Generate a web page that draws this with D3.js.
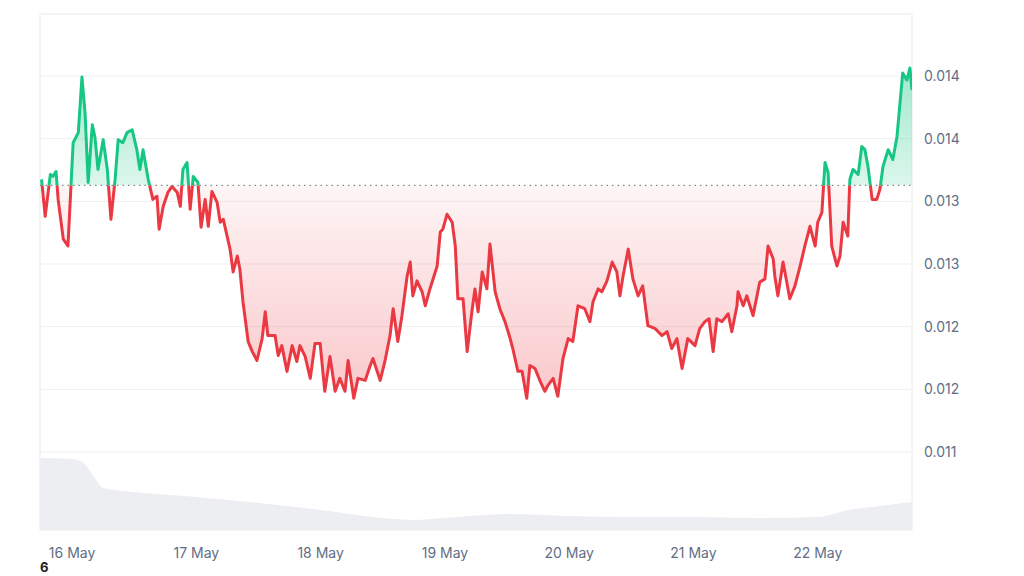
<!DOCTYPE html>
<html>
<head>
<meta charset="utf-8">
<script src="https://cdnjs.cloudflare.com/ajax/libs/d3/7.8.5/d3.min.js"></script>
<style>
  body { margin: 0; background: #fff; }
  text { font-family: "Inter", "Noto Sans", sans-serif; }
</style>
</head>
<body>
<svg id="chart" width="1024" height="576"></svg>
<script>
// hours from 16 May 00:00
const hours = [-5.9,-5.2,-4.2,-3.7,-3.1,-2.7,-1.7,-0.8,0.2,1.2,1.9,2.5,3.1,3.9,4.4,5.0,6.0,6.8,7.5,8.3,8.9,9.8,10.6,11.6,12.5,13.1,13.7,14.7,15.6,16.4,16.8,17.6,18.5,19.3,20.3,20.9,21.4,22.2,22.8,23.4,24.3,24.9,25.7,26.3,27.0,28.0,28.6,29.2,30.5,31.1,31.9,32.4,33.0,34.0,34.8,35.7,36.7,37.3,37.8,39.2,39.8,40.5,41.5,42.5,43.4,44.0,45.0,46.0,46.9,47.9,48.8,49.8,50.8,51.7,52.7,53.3,54.4,55.2,56.6,57.5,58.1,59.5,60.4,61.4,62.0,62.9,63.7,64.7,65.3,65.8,66.6,67.6,68.2,69.1,70.5,71.1,71.6,72.4,73.4,74.0,74.5,75.5,76.3,77.2,77.8,78.4,79.2,80.1,80.7,81.7,82.6,83.6,84.6,85.1,86.1,86.9,87.8,88.4,89.4,90.4,91.3,91.9,92.9,93.8,94.8,95.8,96.7,97.7,99.0,100.0,100.6,101.6,102.3,103.3,104.3,105.2,105.8,106.4,107.4,108.3,109.3,110.2,111.2,112.6,113.9,114.9,115.8,116.8,117.8,118.9,120.3,121.2,122.2,123.0,123.8,124.5,125.5,126.7,127.4,128.4,128.6,129.6,130.3,131.5,132.8,133.8,134.4,135.4,135.7,136.3,137.3,138.6,139.6,140.6,141.5,142.5,143.5,144.0,144.8,145.4,146.0,146.7,147.7,148.3,148.9,149.8,150.2,150.8,151.8,152.5,153.1,153.7,154.5,155.4,156.0,156.6,157.6,158.5,159.3,160.4,161.2,161.8,162.2];
const prices = [0.013257,0.012993,0.013293,0.013279,0.013314,0.013114,0.012829,0.012779,0.013521,0.013593,0.013993,0.013736,0.013236,0.013650,0.013564,0.013329,0.013543,0.013329,0.012971,0.013257,0.013543,0.013521,0.013593,0.013614,0.013471,0.013329,0.013471,0.013257,0.013114,0.013136,0.012900,0.013064,0.013164,0.013207,0.013164,0.013064,0.013329,0.013379,0.013043,0.013279,0.013236,0.012914,0.013114,0.012921,0.013171,0.013093,0.012950,0.012971,0.012757,0.012593,0.012707,0.012614,0.012379,0.012093,0.012021,0.011957,0.012114,0.012307,0.012136,0.012136,0.011993,0.012064,0.011879,0.012064,0.011950,0.012064,0.011986,0.011829,0.012079,0.012079,0.011736,0.011986,0.011736,0.011829,0.011736,0.011957,0.011686,0.011829,0.011814,0.011914,0.011971,0.011814,0.011950,0.012136,0.012329,0.012093,0.012279,0.012564,0.012664,0.012421,0.012529,0.012450,0.012350,0.012471,0.012636,0.012879,0.012900,0.013007,0.012950,0.012779,0.012400,0.012400,0.012021,0.012307,0.012471,0.012307,0.012593,0.012471,0.012793,0.012450,0.012329,0.012236,0.012114,0.012043,0.011879,0.011879,0.011686,0.011921,0.011900,0.011807,0.011736,0.011779,0.011829,0.011700,0.011971,0.012114,0.012093,0.012350,0.012329,0.012236,0.012379,0.012471,0.012450,0.012529,0.012664,0.012593,0.012421,0.012564,0.012757,0.012543,0.012421,0.012493,0.012207,0.012186,0.012136,0.012164,0.012043,0.012114,0.011900,0.012114,0.012064,0.012186,0.012236,0.012257,0.012021,0.012257,0.012236,0.012293,0.012164,0.012350,0.012450,0.012350,0.012421,0.012279,0.012521,0.012543,0.012779,0.012686,0.012564,0.012421,0.012664,0.012400,0.012493,0.012636,0.012779,0.012921,0.012779,0.012950,0.013021,0.013379,0.013307,0.012779,0.012636,0.012707,0.012950,0.012850,0.013257,0.013329,0.013293,0.013493,0.013471,0.013350,0.013114,0.013114,0.013186,0.013350,0.013471,0.013400,0.013564,0.014021,0.013971,0.014057,0.013900,0.013900];
const basePrice = 0.013214;

// trading volume (estimated, arbitrary units)
const volHours = [-6.2,0,2,4,6,12,24,36,48,60,66,72,84,96,108,120,132,144,150,156,162.2];
const volumes = [72,71,68,55,42,38,33,27,20,12,10,12,16,14,13,13,12,13,20,24,28];

const tickValues = [0.0140,0.01355,0.0131,0.01265,0.0122,0.01175,0.0113];
const tickLabels = ["0.014","0.014","0.013","0.013","0.012","0.012","0.011"];
const dayHours = [0,24,48,72,96,120,144];
const dayLabels = ["16 May","17 May","18 May","19 May","20 May","21 May","22 May"];

const green = "#16c784", red = "#ea3943";
const svg = d3.select("#chart");
const plotLeft = 40, plotRight = 912, plotTop = 14, plotBottom = 530;

const x = d3.scaleLinear().domain([-6.2, 162.2]).range([plotLeft, plotRight]);
const y = d3.scaleLinear().domain([0.0140, 0.0113]).range([76, 452]);
const yv = d3.scaleLinear().domain([0, 75]).range([plotBottom, 455]);
const baseY = y(basePrice);

const data = hours.map((h, i) => ({h, p: prices[i]}));
const vdata = volHours.map((h, i) => ({h, v: volumes[i]}));

// frame + grid
svg.append("rect").attr("x", plotLeft).attr("y", plotTop).attr("width", plotRight - plotLeft).attr("height", plotBottom - plotTop)
  .attr("fill", "none").attr("stroke", "#ececec");
svg.selectAll(".grid").data(tickValues).join("line")
  .attr("x1", plotLeft).attr("x2", plotRight).attr("y1", d => y(d)).attr("y2", d => y(d))
  .attr("stroke", "#efefef");

// volume
svg.append("path").datum(vdata)
  .attr("d", d3.area().x(d => x(d.h)).y0(plotBottom).y1(d => yv(d.v)).curve(d3.curveMonotoneX))
  .attr("fill", "#eceef2");

const defs = svg.append("defs");
defs.append("clipPath").attr("id", "above").append("rect")
  .attr("x", plotLeft).attr("y", 0).attr("width", plotRight - plotLeft).attr("height", baseY);
defs.append("clipPath").attr("id", "below").append("rect")
  .attr("x", plotLeft).attr("y", baseY).attr("width", plotRight - plotLeft).attr("height", 576 - baseY);

const gG = defs.append("linearGradient").attr("id", "gGreen").attr("gradientUnits", "userSpaceOnUse")
  .attr("x1", 0).attr("x2", 0).attr("y1", 70).attr("y2", baseY);
gG.append("stop").attr("offset", 0).attr("stop-color", green).attr("stop-opacity", 0.4);
gG.append("stop").attr("offset", 1).attr("stop-color", green).attr("stop-opacity", 0.15);
const gR = defs.append("linearGradient").attr("id", "gRed").attr("gradientUnits", "userSpaceOnUse")
  .attr("x1", 0).attr("x2", 0).attr("y1", baseY).attr("y2", 400);
gR.append("stop").attr("offset", 0).attr("stop-color", red).attr("stop-opacity", 0.05);
gR.append("stop").attr("offset", 1).attr("stop-color", red).attr("stop-opacity", 0.28);

const area = d3.area().x(d => x(d.h)).y0(baseY).y1(d => y(d.p));
const line = d3.line().x(d => x(d.h)).y(d => y(d.p));

svg.append("path").datum(data).attr("d", area).attr("fill", "url(#gGreen)").attr("clip-path", "url(#above)");
svg.append("path").datum(data).attr("d", area).attr("fill", "url(#gRed)").attr("clip-path", "url(#below)");

svg.append("line").attr("x1", plotLeft).attr("x2", plotRight).attr("y1", baseY).attr("y2", baseY)
  .attr("stroke", "#888").attr("stroke-width", 1.2).attr("stroke-dasharray", "1.5,4");

svg.append("path").datum(data).attr("d", line).attr("fill", "none").attr("stroke", green)
  .attr("stroke-width", 3).attr("stroke-linejoin", "round").attr("clip-path", "url(#above)");
svg.append("path").datum(data).attr("d", line).attr("fill", "none").attr("stroke", red)
  .attr("stroke-width", 3).attr("stroke-linejoin", "round").attr("clip-path", "url(#below)");

// axes labels
svg.selectAll(".ylab").data(tickValues).join("text")
  .attr("x", 924).attr("y", d => y(d) + 5).text((d, i) => tickLabels[i])
  .attr("font-size", 14).attr("fill", "#616e85");
svg.selectAll(".xlab").data(dayHours).join("text")
  .attr("x", d => x(d)).attr("y", 558).attr("text-anchor", "middle").text((d, i) => dayLabels[i])
  .attr("font-size", 14).attr("fill", "#616e85");
svg.append("text").attr("x", 40).attr("y", 572).text("6")
  .attr("font-size", 13).attr("font-weight", "bold").attr("fill", "#222");
</script>
</body>
</html>
